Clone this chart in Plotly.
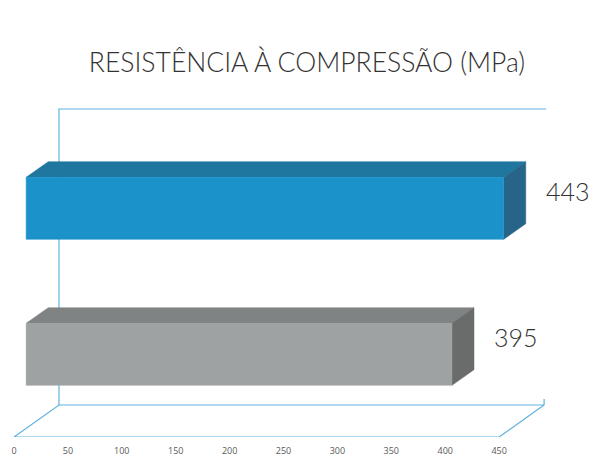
import plotly.graph_objects as go

title = "RESISTÊNCIA À COMPRESSÃO (MPa)"
values = [443, 395]
front_colors = ["#1b92c9", "#9ea2a2"]
top_colors = ["#1f769e", "#808383"]
side_colors = ["#266588", "#6a6b6b"]
bar_bottoms = [189, 43]  # height above the floor's front edge line (axis units)
bar_height = 62
ticks = [0, 50, 100, 150, 200, 250, 300, 350, 400, 450]

W, H = 592, 456
mb = 19
K = 1.078          # px per value unit
X0 = 14            # px of value 0
line_col = "#62b2dd"
dx_depth, dy_depth = 45 / K, 32   # floor depth offset
d_front, d_back = 0.27, 0.76
axis_h = H - mb


def proj(v, h, d):
    return v + d * dx_depth, h + d * dy_depth


fig = go.Figure()


def line(pts):
    fig.add_trace(go.Scatter(x=[p[0] for p in pts], y=[p[1] for p in pts], mode="lines",
                             line=dict(color=line_col, width=1.2), hoverinfo="skip", showlegend=False))


def poly(pts, color):
    pts = pts + [pts[0]]
    fig.add_trace(go.Scatter(x=[p[0] for p in pts], y=[p[1] for p in pts], mode="lines", fill="toself",
                             fillcolor=color, line=dict(color=color, width=0.5), hoverinfo="skip",
                             showlegend=False))


# floor + wall
xm = ticks[-1]
wall_h = 296
line([proj(0, 0, 0), proj(xm, 0, 0), proj(xm, 0, 1), proj(0, 0, 1), proj(0, 0, 0)])
line([proj(0, 0, 1), proj(0, wall_h, 1), proj(xm + 2, wall_h, 1)])
line([proj(xm, 0, 1), proj(xm, 6, 1)])

for v, b, fc, tc, sc in zip(values, bar_bottoms, front_colors, top_colors, side_colors):
    t = b + bar_height
    poly([proj(0, t, d_front), proj(v, t, d_front), proj(v, t, d_back), proj(0, t, d_back)], tc)
    poly([proj(v, b, d_front), proj(v, b, d_back), proj(v, t, d_back), proj(v, t, d_front)], sc)
    poly([proj(0, b, d_front), proj(v, b, d_front), proj(v, t, d_front), proj(0, t, d_front)], fc)
    lx, ly = proj(v, b + bar_height / 2, d_back)
    fig.add_annotation(x=lx, y=ly + 2, text=str(v), showarrow=False, xanchor="left", xshift=18,
                       font=dict(family="Lato", size=25, color="#333333", weight=300))

fig.update_layout(
    width=W, height=H, margin=dict(l=0, r=0, t=0, b=mb, autoexpand=False),
    paper_bgcolor="white", plot_bgcolor="white", showlegend=False,
    title=dict(text=title, x=307 / W, xanchor="center", y=1 - 63 / H, yanchor="middle",
               font=dict(family="Lato", size=26.5, color="#333333", weight=300)),
    xaxis=dict(range=[-X0 / K, (W - X0) / K], tickmode="array", tickvals=ticks,
               ticktext=[str(t) for t in ticks], showgrid=False, zeroline=False, showline=False,
               ticks="outside", ticklen=5, tickcolor="rgba(0,0,0,0)",
               tickfont=dict(family="Open Sans", size=9, color="#595959")),
    yaxis=dict(range=[0, axis_h], visible=False, fixedrange=True),
)
fig.write_html("out.html", config={"displayModeBar": False},
               post_script="document.body.style.margin='0';document.body.style.overflow='hidden';")
